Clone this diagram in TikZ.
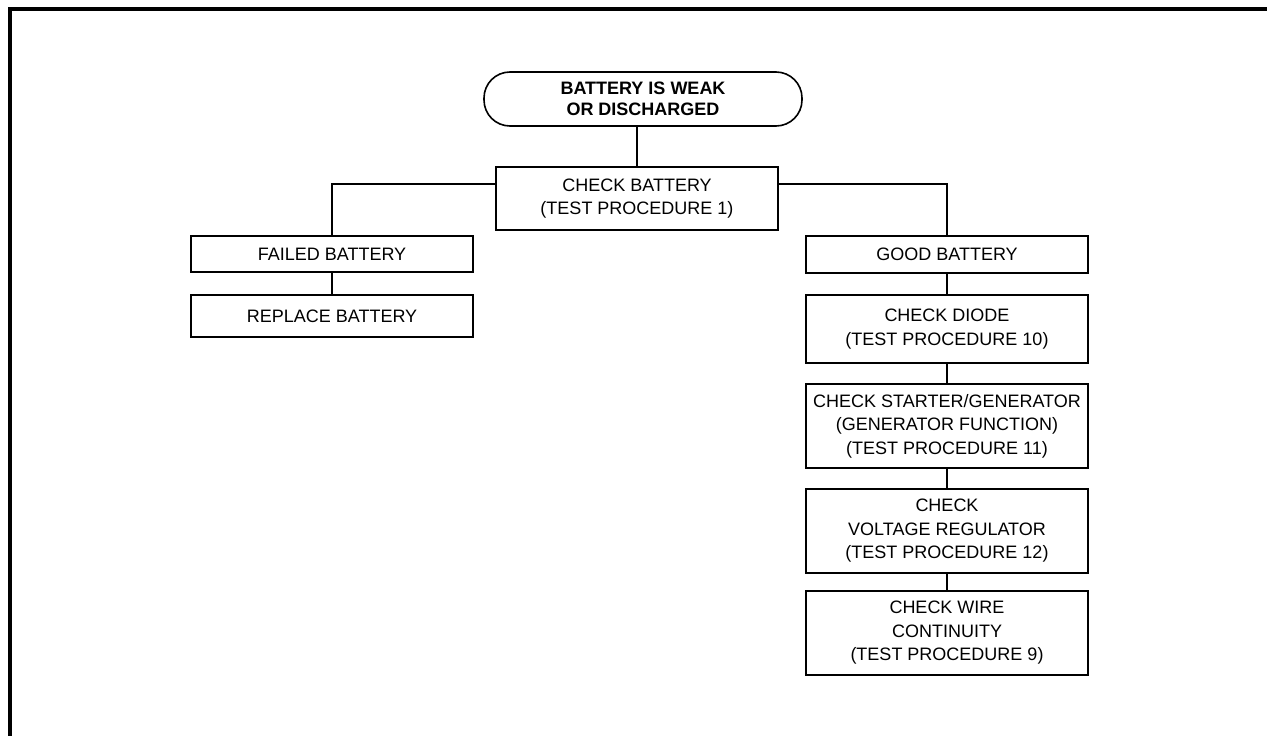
\documentclass[tikz,border=0pt]{standalone}
\usepackage{fontspec}
\setmainfont{Liberation Sans}
\begin{document}
\begin{tikzpicture}[x=1pt,y=-1pt,
  box/.style={draw, line width=1.2pt, minimum width=282pt, align=center, inner sep=0pt, font=\fontsize{18}{23.5}\selectfont},
  term/.style={draw, line width=1.6pt, rounded corners=26pt, minimum width=318pt, minimum height=54pt, align=center, inner sep=0pt, font=\fontsize{18}{20.5}\selectfont\bfseries},
  link/.style={line width=1.2pt}]
\useasboundingbox (0,0) rectangle (1267,736);
\fill[white] (0,0) rectangle (1267,736);
\draw[line width=4pt] (10,736) -- (10,9) -- (1267,9);

\node[term] (top) at (643,99) {BATTERY IS WEAK\\OR DISCHARGED};
\node[box, minimum height=63pt] (check) at (637,198.5) {CHECK BATTERY\\(TEST PROCEDURE 1)};
\node[box, minimum height=36pt] (failed) at (332,254) {FAILED BATTERY};
\node[box, minimum height=42pt] (replace) at (332,316) {REPLACE BATTERY};
\node[box, minimum height=37pt] (good) at (947,254.5) {GOOD BATTERY};
\node[box, minimum height=68pt] (diode) at (947,329) {CHECK DIODE\\(TEST PROCEDURE 10)};
\node[box, minimum height=84pt] (starter) at (947,426) {CHECK STARTER/GENERATOR\\(GENERATOR FUNCTION)\\(TEST PROCEDURE 11)};
\node[box, minimum height=84pt] (volt) at (947,531) {CHECK\\VOLTAGE REGULATOR\\(TEST PROCEDURE 12)};
\node[box, minimum height=84pt] (wire) at (947,633) {CHECK WIRE\\CONTINUITY\\(TEST PROCEDURE 9)};

\coordinate (cl) at ([yshift=14.5pt]check.west);
\coordinate (cr) at ([yshift=14.5pt]check.east);
\draw[link] (check.north) -- (check.north |- top.south);
\draw[link] (cl) -| (failed.north);
\draw[link] (cr) -| (good.north);
\draw[link] (failed) -- (replace);
\draw[link] (good) -- (diode);
\draw[link] (diode) -- (starter);
\draw[link] (starter) -- (volt);
\draw[link] (volt) -- (wire);
\end{tikzpicture}
\end{document}
